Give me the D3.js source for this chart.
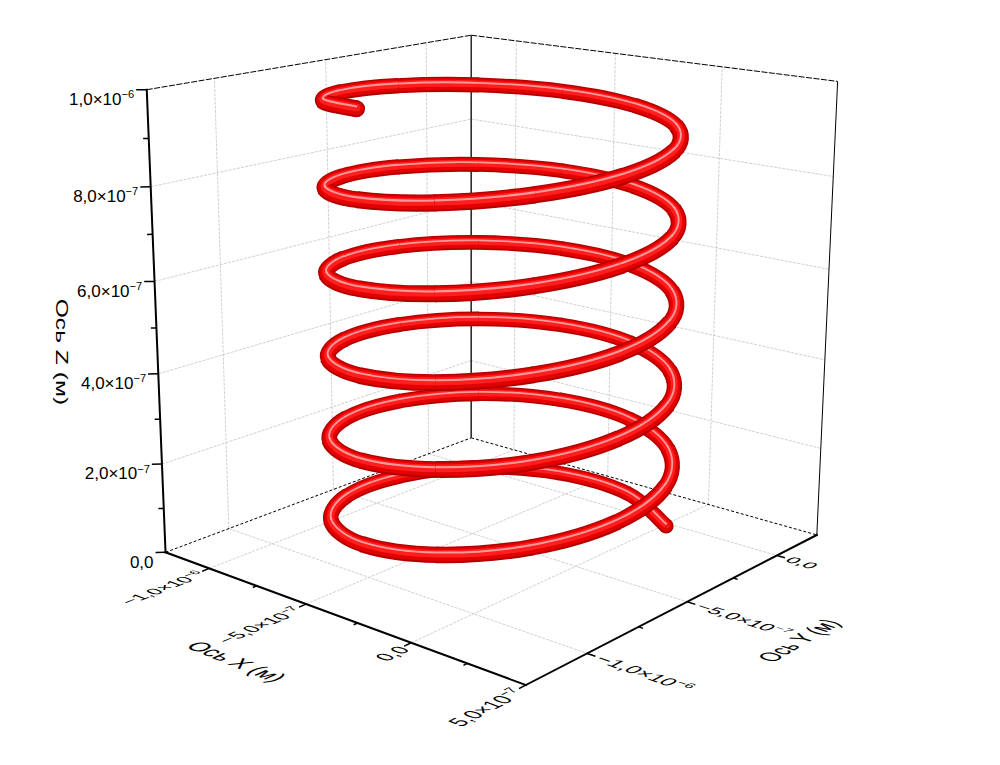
<!DOCTYPE html>
<html>
<head>
<meta charset="utf-8">
<script src="https://cdn.jsdelivr.net/npm/d3@7"></script>
<style>
  body { margin: 0; background: #fff; }
  svg text { font-family: "Liberation Sans", Arial, sans-serif; fill: #000; }
</style>
</head>
<body>
<svg id="chart" width="1000" height="765"></svg>
<script>
// all lengths below are in units of 1e-7 m

// axis ranges
const xDomain = [-12.4, 5.0];
const yDomain = [-12.8, 2.4];
const zDomain = [0, 10];

// ticks
const xTicks = [-10, -5, 0, 5];
const yTicks = [-10, -5, 0];
const zTicks = [0, 2, 4, 6, 8, 10];
const xMinorTicks = [-7.5, -2.5, 2.5];
const yMinorTicks = [-7.5, -2.5];
const zMinorTicks = [1, 3, 5, 7, 9];

// tick labels: [mantissa, exponent]
const xTickLabels = [['−1,0×10', '−6'], ['−5,0×10', '−7'], ['0,0', ''], ['5,0×10', '−7']];
const yTickLabels = [['−1,0×10', '−6'], ['−5,0×10', '−7'], ['0,0', '']];
const zTickLabels = [['0,0', ''], ['2,0×10', '−7'], ['4,0×10', '−7'], ['6,0×10', '−7'], ['8,0×10', '−7'], ['1,0×10', '−6']];

const xTitle = 'Ось X (м)';
const yTitle = 'Ось Y (м)';
const zTitle = 'Ось Z (м)';

// helix points
const helixX = [
  0.11, -2.77, -5.84, -8.29, -9.46, -9.02, -7.11, -4.23, -1.16, 1.29, 2.46, 2.02,
  0.11, -2.77, -5.84, -8.29, -9.46, -9.02, -7.11, -4.23, -1.16, 1.29, 2.46, 2.02,
  0.11, -2.77, -5.84, -8.29, -9.46, -9.02, -7.11, -4.23, -1.16, 1.29, 2.46, 2.02,
  0.11, -2.77, -5.84, -8.29, -9.46, -9.02, -7.11, -4.23, -1.16, 1.29, 2.46, 2.02,
  0.11, -2.77, -5.84, -8.29, -9.46, -9.02, -7.11, -4.23, -1.16, 1.29, 2.46, 2.02,
  0.11, -2.77, -5.84, -8.29, -9.46, -9.02, -7.11, -4.23
];
const helixY = [
  -0.21, 0.96, 0.52, -1.39, -4.27, -7.34, -9.79, -10.96, -10.52, -8.61, -5.73, -2.66,
  -0.21, 0.96, 0.52, -1.39, -4.27, -7.34, -9.79, -10.96, -10.52, -8.61, -5.73, -2.66,
  -0.21, 0.96, 0.52, -1.39, -4.27, -7.34, -9.79, -10.96, -10.52, -8.61, -5.73, -2.66,
  -0.21, 0.96, 0.52, -1.39, -4.27, -7.34, -9.79, -10.96, -10.52, -8.61, -5.73, -2.66,
  -0.21, 0.96, 0.52, -1.39, -4.27, -7.34, -9.79, -10.96, -10.52, -8.61, -5.73, -2.66,
  -0.21, 0.96, 0.52, -1.39, -4.27, -7.34, -9.79, -10.96
];
const helixZ = [
  0.00, 0.15, 0.30, 0.45, 0.60, 0.75, 0.90, 1.04, 1.19, 1.34, 1.49, 1.64,
  1.79, 1.94, 2.09, 2.24, 2.39, 2.54, 2.69, 2.84, 2.99, 3.13, 3.28, 3.43,
  3.58, 3.73, 3.88, 4.03, 4.18, 4.33, 4.48, 4.63, 4.78, 4.93, 5.07, 5.22,
  5.37, 5.52, 5.67, 5.82, 5.97, 6.12, 6.27, 6.42, 6.57, 6.72, 6.87, 7.01,
  7.16, 7.31, 7.46, 7.61, 7.76, 7.91, 8.06, 8.21, 8.36, 8.51, 8.66, 8.81,
  8.96, 9.10, 9.25, 9.40, 9.55, 9.70, 9.85, 10.00
];

// data -> unit cube
const xs = d3.scaleLinear().domain(xDomain).range([0, 1]);
const ys = d3.scaleLinear().domain(yDomain).range([0, 1]);
const zs = d3.scaleLinear().domain(zDomain).range([0, 1]);

// perspective camera looking at the unit cube
const cam = { azimuth: 40.9, elevation: 15.6, dist: 4.558, focal: 2168, cx: 471, cy: 313, dx: 0.051, dy: -0.0174 };
const rad = Math.PI / 180;
const sa = Math.sin(cam.azimuth * rad);
const ca = Math.cos(cam.azimuth * rad);
const se = Math.sin(cam.elevation * rad);
const ce = Math.cos(cam.elevation * rad);

function project (u, v, w) {
  const px = u - 0.5;
  const py = v - 0.5;
  const pz = w - 0.5;
  const xc = px * ca + py * sa + cam.dx;
  const h = -px * sa + py * ca;
  const yc = h * se + pz * ce + cam.dy;
  const zc = h * ce - pz * se + cam.dist;
  return { x: cam.cx + cam.focal * xc / zc, y: cam.cy - cam.focal * yc / zc, depth: zc };
}

const svg = d3.select('#chart');

function seg3 (g, a, b) {
  const p = project(a[0], a[1], a[2]);
  const q = project(b[0], b[1], b[2]);
  return g.append('line')
    .attr('x1', p.x).attr('y1', p.y)
    .attr('x2', q.x).attr('y2', q.y);
}

const xInner = xTicks.filter(t => t < xDomain[1]);

// grid lines on floor and back walls
const grid = svg.append('g')
  .attr('stroke', '#c4c4c4')
  .attr('stroke-width', 0.8)
  .attr('stroke-dasharray', '3,1.2');
xInner.forEach(t => seg3(grid, [xs(t), 0, 0], [xs(t), 1, 0]));
yTicks.forEach(t => seg3(grid, [0, ys(t), 0], [1, ys(t), 0]));
zTicks.slice(1, -1).forEach(t => seg3(grid, [0, 0, zs(t)], [0, 1, zs(t)]));
yTicks.forEach(t => seg3(grid, [0, ys(t), 0], [0, ys(t), 1]));
zTicks.slice(1, -1).forEach(t => seg3(grid, [0, 1, zs(t)], [1, 1, zs(t)]));
xInner.forEach(t => seg3(grid, [xs(t), 1, 0], [xs(t), 1, 1]));

// box frame
const frame = svg.append('g').attr('stroke', '#000').attr('stroke-width', 1);
seg3(frame, [0, 1, 0], [0, 1, 1]).attr('stroke-width', 1.3);
seg3(frame, [1, 1, 0], [1, 1, 1]);
seg3(frame, [0, 0, 1], [0, 1, 1]).attr('stroke-dasharray', '6,1.5');
seg3(frame, [0, 1, 1], [1, 1, 1]).attr('stroke-dasharray', '6,1.5');
seg3(frame, [0, 0, 0], [0, 1, 0]).attr('stroke-dasharray', '3,2');
seg3(frame, [0, 1, 0], [1, 1, 0]).attr('stroke-dasharray', '3,2');

// axes
const axes = svg.append('g').attr('stroke', '#000').attr('stroke-width', 2).attr('stroke-linecap', 'square');
seg3(axes, [0, 0, 0], [1, 0, 0]);
seg3(axes, [1, 0, 0], [1, 1, 0]);
seg3(axes, [0, 0, 0], [0, 0, 1]);

const ticks = svg.append('g').attr('stroke', '#000').attr('stroke-width', 1.5);
xTicks.forEach(t => seg3(ticks, [xs(t), 0, 0], [xs(t), -0.02, 0]));
xMinorTicks.forEach(t => seg3(ticks, [xs(t), 0, 0], [xs(t), -0.011, 0]));
yTicks.forEach(t => seg3(ticks, [1, ys(t), 0], [1.02, ys(t), 0]));
yMinorTicks.forEach(t => seg3(ticks, [1, ys(t), 0], [1.011, ys(t), 0]));
zTicks.forEach(t => seg3(ticks, [0, 0, zs(t)], [-0.015, -0.015, zs(t)]));
zMinorTicks.forEach(t => seg3(ticks, [0, 0, zs(t)], [-0.008, -0.008, zs(t)]));

// helix tube: catmull-rom pieces drawn back to front
const tubeSize = 0.033;
const tubeLayers = [
  { color: '#b00000', w: 1.0, off: 0, op: 1 },
  { color: '#e40000', w: 0.8, off: -0.02, op: 1 },
  { color: '#ff1e1e', w: 0.46, off: -0.07, op: 1 },
  { color: '#ffc4c4', w: 0.12, off: -0.14, op: 0.75 }
];

const pts = helixX.map((d, i) => project(xs(d), ys(helixY[i]), zs(helixZ[i])));
const n = pts.length;

function pushOut (p, c, len) {
  const dx = c.x - p.x;
  const dy = c.y - p.y;
  const l = Math.hypot(dx, dy) || 1;
  return { x: p.x - dx / l * len, y: p.y - dy / l * len };
}

const pieces = [];
for (let i = 0; i < n - 1; i++) {
  const p0 = pts[Math.max(i - 1, 0)];
  const p1 = pts[i];
  const p2 = pts[i + 1];
  const p3 = pts[Math.min(i + 2, n - 1)];
  const c1 = { x: p1.x + (p2.x - p0.x) / 6, y: p1.y + (p2.y - p0.y) / 6 };
  const c2 = { x: p2.x - (p3.x - p1.x) / 6, y: p2.y - (p3.y - p1.y) / 6 };
  const e0 = pushOut(p1, c1, 0.8);
  const e1 = pushOut(p2, c2, 0.8);
  const depth = (p1.depth + p2.depth) / 2;
  pieces.push({
    d: `M${e0.x},${e0.y}L${p1.x},${p1.y}C${c1.x},${c1.y} ${c2.x},${c2.y} ${p2.x},${p2.y}L${e1.x},${e1.y}`,
    depth: depth,
    width: tubeSize * cam.focal / depth
  });
}
pieces.sort((a, b) => b.depth - a.depth);

const helixG = svg.append('g');

// rounded tube ends
[pts[0], pts[n - 1]].forEach(p => {
  const w = tubeSize * cam.focal / p.depth;
  tubeLayers.forEach(L => {
    helixG.append('circle')
      .attr('cx', p.x)
      .attr('cy', p.y + w * L.off)
      .attr('r', w * L.w / 2)
      .attr('fill', L.color)
      .attr('fill-opacity', L.op);
  });
});

const pieceG = helixG.selectAll('g.piece')
  .data(pieces)
  .join('g')
  .attr('class', 'piece')
  .attr('fill', 'none');
tubeLayers.forEach(L => {
  pieceG.append('path')
    .attr('d', d => d.d)
    .attr('stroke', L.color)
    .attr('stroke-opacity', L.op)
    .attr('stroke-width', d => d.width * L.w)
    .attr('transform', d => `translate(0,${d.width * L.off})`);
});

// labels
const labels = svg.append('g');
const K = 0.0033;

function addLabel (txt, parts, dy) {
  txt.append('tspan').attr('dy', dy).text(parts[0]);
  if (parts[1]) {
    txt.append('tspan')
      .attr('dy', '-0.6em')
      .attr('font-size', '0.65em')
      .text(parts[1]);
  }
}

// text lying in the floor plane
function planeText (anchor, xdir, ydir) {
  const o = project(anchor[0], anchor[1], anchor[2]);
  const a = project(anchor[0] + xdir[0] * K, anchor[1] + xdir[1] * K, anchor[2] + xdir[2] * K);
  const b = project(anchor[0] + ydir[0] * K, anchor[1] + ydir[1] * K, anchor[2] + ydir[2] * K);
  return labels.append('text')
    .attr('transform', `matrix(${a.x - o.x},${a.y - o.y},${b.x - o.x},${b.y - o.y},${o.x},${o.y})`);
}

zTicks.forEach((t, i) => {
  const p = project(-0.015, -0.015, zs(t));
  const txt = labels.append('text')
    .attr('x', p.x - 2)
    .attr('y', p.y + 15)
    .attr('text-anchor', 'end')
    .attr('font-size', 17);
  addLabel(txt, zTickLabels[i], 0);
});

xTicks.forEach((t, i) => {
  const txt = planeText([xs(t) + 0.006, -0.026, 0], [0, 1, 0], [1, 0, 0])
    .attr('text-anchor', 'end')
    .attr('font-size', 15);
  addLabel(txt, xTickLabels[i], '0.35em');
});

yTicks.forEach((t, i) => {
  const txt = planeText([1.028, ys(t), 0], [1, 0, 0], [0, -1, 0])
    .attr('text-anchor', 'start')
    .attr('font-size', 15);
  addLabel(txt, yTickLabels[i], '0.35em');
});

planeText([0.52, -0.28, 0], [1, 0, 0], [0, -1, 0])
  .attr('text-anchor', 'middle')
  .attr('font-size', 17)
  .append('tspan').attr('dy', '0.35em').text(xTitle);

planeText([1.273, 0.5, 0], [0, 1, 0], [1, 0, 0])
  .attr('text-anchor', 'middle')
  .attr('font-size', 17)
  .append('tspan').attr('dy', '0.35em').text(yTitle);

const zMid = project(0, 0, 0.5);
labels.append('text')
  .attr('transform', `translate(${zMid.x - 100},${zMid.y + 24}) rotate(90) scale(1.45,1)`)
  .attr('text-anchor', 'middle')
  .attr('font-size', 17)
  .text(zTitle);
</script>
</body>
</html>
